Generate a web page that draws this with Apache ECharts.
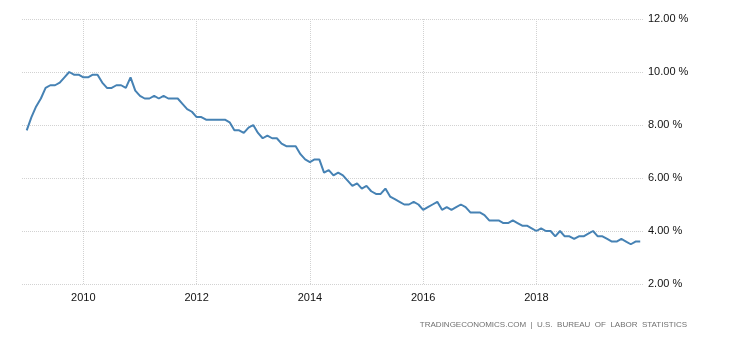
<!DOCTYPE html>
<html>
<head>
<meta charset="utf-8">
<script src="https://cdn.jsdelivr.net/npm/echarts@6/dist/echarts.min.js"></script>
<style>
	html, body { margin: 0; padding: 0; background: #fff; }
	#chart { width: 730px; height: 340px; }
</style>
</head>
<body>
<div id="chart"></div>
<script>
// US unemployment rate, monthly, Jan 2009 .. Nov 2019
var startYear = 2009;
var rate2009 = [7.8, 8.3, 8.7, 9.0, 9.4, 9.5, 9.5, 9.6, 9.8, 10.0, 9.9, 9.9];
var rate2010 = [9.8, 9.8, 9.9, 9.9, 9.6, 9.4, 9.4, 9.5, 9.5, 9.4, 9.8, 9.3];
var rate2011 = [9.1, 9.0, 9.0, 9.1, 9.0, 9.1, 9.0, 9.0, 9.0, 8.8, 8.6, 8.5];
var rate2012 = [8.3, 8.3, 8.2, 8.2, 8.2, 8.2, 8.2, 8.1, 7.8, 7.8, 7.7, 7.9];
var rate2013 = [8.0, 7.7, 7.5, 7.6, 7.5, 7.5, 7.3, 7.2, 7.2, 7.2, 6.9, 6.7];
var rate2014 = [6.6, 6.7, 6.7, 6.2, 6.3, 6.1, 6.2, 6.1, 5.9, 5.7, 5.8, 5.6];
var rate2015 = [5.7, 5.5, 5.4, 5.4, 5.6, 5.3, 5.2, 5.1, 5.0, 5.0, 5.1, 5.0];
var rate2016 = [4.8, 4.9, 5.0, 5.1, 4.8, 4.9, 4.8, 4.9, 5.0, 4.9, 4.7, 4.7];
var rate2017 = [4.7, 4.6, 4.4, 4.4, 4.4, 4.3, 4.3, 4.4, 4.3, 4.2, 4.2, 4.1];
var rate2018 = [4.0, 4.1, 4.0, 4.0, 3.8, 4.0, 3.8, 3.8, 3.7, 3.8, 3.8, 3.9];
var rate2019 = [4.0, 3.8, 3.8, 3.7, 3.6, 3.6, 3.7, 3.6, 3.5, 3.6, 3.6];

var yearLabels = ['2010', '2012', '2014', '2016', '2018'];

var years = [rate2009, rate2010, rate2011, rate2012, rate2013, rate2014,
	rate2015, rate2016, rate2017, rate2018, rate2019];

// x = months since Jan 2009
var points = [];
var i, j, n = 0;
for (i = 0; i < years.length; i++) {
	for (j = 0; j < years[i].length; j++) {
		points.push([n, years[i][j]]);
		n++;
	}
}

var yearPos = yearLabels.map(function (y) { return (parseInt(y, 10) - startYear) * 12; });

var dotted = { color: '#d2d2d2', type: [1, 1], width: 1 };
var labelFont = '"Liberation Sans", Arial, sans-serif';

var myChart = echarts.init(document.getElementById('chart'));
var option = {
	animation: false,
	grid: { left: 22, right: 86, top: 19, bottom: 56 },
	xAxis: {
		type: 'value',
		min: -1,
		max: 130.8,
		axisLine: { show: false },
		axisTick: { show: false, customValues: yearPos },
		axisLabel: {
			customValues: yearPos,
			color: '#111',
			fontSize: 11,
			fontFamily: labelFont,
			margin: 8,
			formatter: function (v) { return String(startYear + Math.round(v / 12)); }
		},
		splitLine: { show: true, lineStyle: dotted }
	},
	yAxis: {
		type: 'value',
		position: 'right',
		min: 2,
		max: 12,
		interval: 2,
		axisLine: { show: false },
		axisTick: { show: false },
		axisLabel: {
			color: '#111',
			fontSize: 11,
			fontFamily: labelFont,
			margin: 4,
			formatter: function (v) { return v.toFixed(2) + ' %'; }
		},
		splitLine: { show: true, lineStyle: dotted }
	},
	series: [{
		type: 'line',
		data: points,
		symbol: 'none',
		lineStyle: { color: '#4682b4', width: 2 }
	}],
	graphic: [{
		type: 'text',
		right: 43,
		top: 321,
		style: {
			text: 'TRADINGECONOMICS.COM  |  U.S.  BUREAU  OF  LABOR  STATISTICS',
			fill: '#707070',
			fontSize: 8,
			fontFamily: labelFont
		}
	}]
};
myChart.setOption(option);
</script>
</body>
</html>
